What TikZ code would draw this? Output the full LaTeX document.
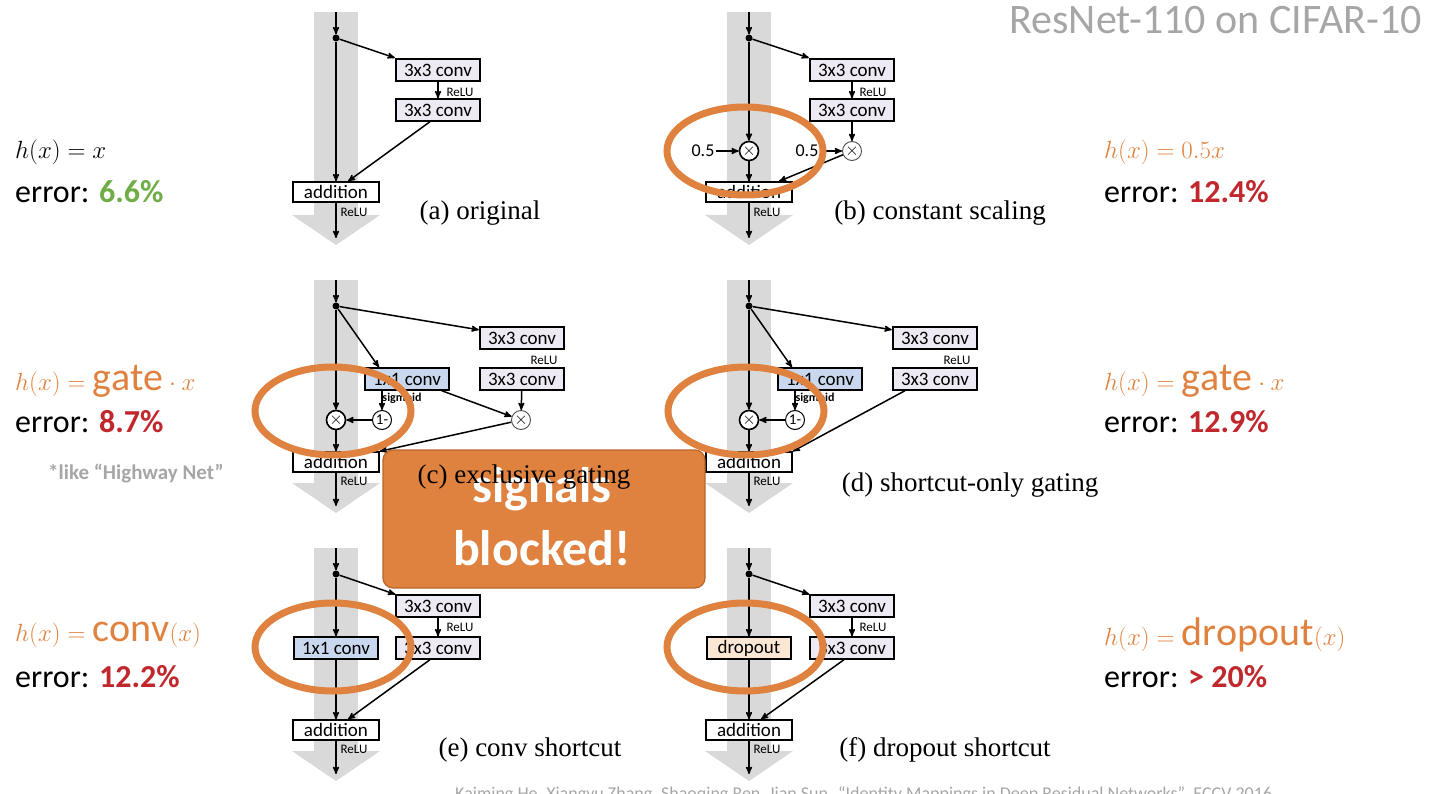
\documentclass[tikz,border=0pt]{standalone}
\usepackage{fontspec}
\setmainfont{Carlito}
\newfontfamily\capfont{Liberation Serif}
\usetikzlibrary{arrows,shapes}
\definecolor{bandgray}{HTML}{D9D9D9}
\definecolor{convfill}{HTML}{EEEAF4}
\definecolor{gatefill}{HTML}{C9D8EE}
\definecolor{dropfill}{HTML}{FBE7D3}
\definecolor{warnorange}{HTML}{E0823F}
\definecolor{warnedge}{HTML}{B8652C}
\definecolor{errred}{HTML}{C0282D}
\definecolor{okgreen}{HTML}{70AD47}
\begin{document}
\begin{tikzpicture}[x=1pt,y=-1pt,>=stealth']
        \tikzstyle{band}=[fill=bandgray]
        \tikzstyle{conv}=[rectangle, draw=black, line width=1.4pt, fill=convfill, minimum width=84, minimum height=22, inner sep=0pt, font=\fontsize{19}{19}\selectfont]
        \tikzstyle{convtop}=[conv, line width=2.4pt]
        \tikzstyle{add}=[conv, fill=white, minimum width=86, minimum height=20]
        \tikzstyle{mult}=[circle, draw=black, line width=1.6pt, fill=white, minimum size=19, inner sep=0pt, font=\bfseries\fontsize{16}{16}\selectfont]
        \tikzstyle{dot}=[circle, fill=black, minimum size=7, inner sep=0pt]
        \tikzstyle{relu}=[font=\fontsize{13}{13}\selectfont, inner sep=1pt]
        \tikzstyle{caption}=[font=\capfont\fontsize{27}{27}\selectfont, inner sep=0pt]
        \tikzstyle{arr}=[->, line width=1.5pt]
        \tikzstyle{hx}=[anchor=west, inner sep=0pt, font=\fontsize{40}{40}\selectfont]
        \tikzstyle{err}=[anchor=west, inner sep=0pt, font=\fontsize{32}{32}\selectfont]
        \tikzstyle{ring}=[draw=warnorange, line width=7pt]
        \useasboundingbox (0,0) rectangle (1434,794);
        % (a) original
        \begin{scope}
          \fill[band] (314,12) rectangle (358,215);
          \fill[band] (292,215) -- (380,215) -- (336,245) -- cycle;
          \coordinate (ain) at (336,12);
          \node [dot] (adot) at (336,38) {};
          \node [convtop] (ac1) at (438,70) {3x3 conv};
          \node [conv] (ac2) at (438,110) {3x3 conv};
          \node [add] (aadd) at (336,192) {addition};
          \coordinate (aout) at (336,238);
          \node [relu] at (460,92) {ReLU};
          \node [relu] at (354,212) {ReLU};
          \node [caption] at (480,213) {(a) original};
          \draw [arr] (ain) -- (adot);
          \draw [arr] (adot) -- (aadd);
          \draw [arr] (adot) -- (ac1.north west);
          \draw [arr] (ac1) -- (ac2);
          \draw [arr] ([xshift=-8]ac2.south) -- ([xshift=12]aadd.north);
          \draw [arr] (aadd) -- (aout);
        \end{scope}
        % (b) constant scaling
        \begin{scope}[shift={(413,0)}]
          \fill[band] (314,12) rectangle (358,215);
          \fill[band] (292,215) -- (380,215) -- (336,245) -- cycle;
          \coordinate (bin) at (336,12);
          \node [dot] (bdot) at (336,38) {};
          \node [convtop] (bc1) at (439,70) {3x3 conv};
          \node [conv] (bc2) at (439,110) {3x3 conv};
          \node [mult] (bm1) at (336,151) {$\times$};
          \node [mult, draw=black!70, line width=0.9pt] (bm2) at (439,151) {$\times$};
          \node [inner sep=1pt, font=\fontsize{18}{18}\selectfont] (bh1) at (290,151) {0.5};
          \node [inner sep=1pt, font=\fontsize{18}{18}\selectfont] (bh2) at (394,151) {0.5};
          \node [add] (badd) at (336,192) {addition};
          \coordinate (bout) at (336,238);
          \node [relu] at (460,92) {ReLU};
          \node [relu] at (354,212) {ReLU};
          \node [caption] at (527,213) {(b) constant scaling};
          \draw [arr] (bin) -- (bdot);
          \draw [arr] (bdot) -- (bm1);
          \draw [arr] (bm1) -- (badd);
          \draw [arr] (bdot) -- (bc1.north west);
          \draw [arr] (bc1) -- (bc2);
          \draw [arr] (bc2) -- (bm2);
          \draw [arr] (bh1) -- (bm1);
          \draw [arr] (bh2) -- (bm2);
          \draw [arr] (bm2) -- ([xshift=30]badd.north);
          \draw [arr] (badd) -- (bout);
        \end{scope}
        % (c) exclusive gating
        \begin{scope}[shift={(0,268)}]
          \fill[band] (314,12) rectangle (358,215);
          \fill[band] (292,215) -- (380,215) -- (336,245) -- cycle;
          \coordinate (cin) at (336,12);
          \node [dot] (cdot) at (336,38) {};
          \node [convtop] (cc1) at (522,70) {3x3 conv};
          \node [conv] (cc2) at (522,111) {3x3 conv};
          \node [conv, fill=gatefill] (cg) at (407,111) {1x1 conv};
          \node [mult, font=\fontsize{15}{15}\selectfont, line width=1pt] (cinv) at (382,152) {1-};
          \node [mult] (cm1) at (336,152) {$\times$};
          \node [mult, draw=black!70, line width=0.9pt] (cm2) at (521,152) {$\times$};
          \node [add] (cadd) at (336,194) {addition};
          \coordinate (cout) at (336,238);
          \node [relu] at (544,92) {ReLU};
          \node [relu, font=\bfseries\fontsize{12}{12}\selectfont] at (402,130) {sigmoid};
          \node [relu] at (354,213) {ReLU};
          \draw [arr] (cin) -- (cdot);
          \draw [arr] (cdot) -- (cm1);
          \draw [arr] (cm1) -- (cadd);
          \draw [arr] (cdot) -- ([yshift=-4]cc1.north west);
          \draw [arr] (cdot) -- ([xshift=-28]cg.north);
          \draw [arr] (cg.south -| cinv) -- (cinv);
          \draw [arr] (cinv) -- (cm1);
          \draw [arr] ([xshift=-8]cg.south east) -- (cm2);
          \draw [arr] (cc2) -- (cm2);
          \draw [arr] (cm2) -- (cadd.north east);
          \draw [arr] (cadd) -- (cout);
        \end{scope}
        % (d) shortcut-only gating
        \begin{scope}[shift={(413,268)}]
          \fill[band] (314,12) rectangle (358,215);
          \fill[band] (292,215) -- (380,215) -- (336,245) -- cycle;
          \coordinate (din) at (336,12);
          \node [dot] (ddot) at (336,38) {};
          \node [convtop] (dc1) at (522,70) {3x3 conv};
          \node [conv] (dc2) at (522,111) {3x3 conv};
          \node [conv, fill=gatefill] (dg) at (407,111) {1x1 conv};
          \node [mult, font=\fontsize{15}{15}\selectfont, line width=1pt] (dinv) at (382,152) {1-};
          \node [mult] (dm1) at (336,152) {$\times$};
          \node [add] (dadd) at (336,194) {addition};
          \coordinate (dout) at (336,238);
          \node [relu] at (544,92) {ReLU};
          \node [relu, font=\bfseries\fontsize{12}{12}\selectfont] at (402,130) {sigmoid};
          \node [relu] at (354,213) {ReLU};
          \node [caption] at (557,217) {(d) shortcut-only gating};
          \draw [arr] (din) -- (ddot);
          \draw [arr] (ddot) -- (dm1);
          \draw [arr] (dm1) -- (dadd);
          \draw [arr] (ddot) -- ([yshift=-4]dc1.north west);
          \draw [arr] (ddot) -- ([xshift=-28]dg.north);
          \draw [arr] (dg.south -| dinv) -- (dinv);
          \draw [arr] (dinv) -- (dm1);
          \draw [arr] ([xshift=-30]dc2.south) -- (dadd.north east);
          \draw [arr] (dadd) -- (dout);
        \end{scope}
        % (e) conv shortcut
        \begin{scope}[shift={(0,536)}]
          \fill[band] (314,12) rectangle (358,215);
          \fill[band] (292,215) -- (380,215) -- (336,245) -- cycle;
          \coordinate (ein) at (336,12);
          \node [dot] (edot) at (336,38) {};
          \node [conv] (ec1) at (438,70) {3x3 conv};
          \node [conv] (ec2) at (438,112) {3x3 conv};
          \node [conv, fill=gatefill] (es) at (336,112) {1x1 conv};
          \node [add] (eadd) at (336,194) {addition};
          \coordinate (eout) at (336,238);
          \node [relu] at (460,91) {ReLU};
          \node [relu] at (354,213) {ReLU};
          \node [caption] at (530,214) {(e) conv shortcut};
          \draw [arr] (ein) -- (edot);
          \draw [arr] (edot) -- (es);
          \draw [arr] (es) -- (eadd);
          \draw [arr] (edot) -- (ec1.north west);
          \draw [arr] (ec1) -- (ec2);
          \draw [arr] ([xshift=-8]ec2.south) -- ([xshift=12]eadd.north);
          \draw [arr] (eadd) -- (eout);
        \end{scope}
        % (f) dropout shortcut
        \begin{scope}[shift={(413,536)}]
          \fill[band] (314,12) rectangle (358,215);
          \fill[band] (292,215) -- (380,215) -- (336,245) -- cycle;
          \coordinate (fin) at (336,12);
          \node [dot] (fdot) at (336,38) {};
          \node [conv] (fc1) at (439,70) {3x3 conv};
          \node [conv] (fc2) at (439,112) {3x3 conv};
          \node [conv, fill=dropfill] (fs) at (336,112) {dropout};
          \node [add] (fadd) at (336,194) {addition};
          \coordinate (fout) at (336,238);
          \node [relu] at (460,91) {ReLU};
          \node [relu] at (354,213) {ReLU};
          \node [caption] at (532,214) {(f) dropout shortcut};
          \draw [arr] (fin) -- (fdot);
          \draw [arr] (fdot) -- (fs);
          \draw [arr] (fs) -- (fadd);
          \draw [arr] (fdot) -- (fc1.north west);
          \draw [arr] (fc1) -- (fc2);
          \draw [arr] ([xshift=-8]fc2.south) -- ([xshift=12]fadd.north);
          \draw [arr] (fadd) -- (fout);
        \end{scope}
        % highlights
        \draw [ring] (745,151) ellipse [x radius=78, y radius=44];
        \draw [ring] (333,411) ellipse [x radius=78, y radius=44];
        \draw [ring] (746,411) ellipse [x radius=78, y radius=44];
        \draw [ring] (333,647) ellipse [x radius=78, y radius=44];
        \draw [ring] (745,647) ellipse [x radius=78, y radius=44];
        \node [draw=warnedge, line width=1.2pt, fill=warnorange, rounded corners=10pt, minimum width=322, minimum height=138, inner sep=0pt] (block) at (544,519) {};
        \node [text=white, font=\bfseries\fontsize{50}{63}\selectfont, align=center] (blocktxt) at (542,517) {signals\\blocked!};
        \node [caption] at (524,477) {(c) exclusive gating};
        % formulas
        \node [hx] (ha) at (15,152) {$h(x)=x$};
        \node [err] (ea) at (15,192) {error: \textbf{\color{okgreen}6.6\%}};
        \node [hx, text=warnorange] (hb) at (1104,152) {$h(x)=0.5x$};
        \node [err] (eb) at (1104,192) {error: \textbf{\color{errred}12.4\%}};
        \node [hx, text=warnorange] (hc) at (15,381) {$h(x)=\mathrm{gate}\cdot x$};
        \node [err] (ec) at (15,422) {error: \textbf{\color{errred}8.7\%}};
        \node [anchor=center, text=black!35, font=\bfseries\fontsize{21}{21}\selectfont] (hw) at (136,474) {*like “Highway Net”};
        \node [hx, text=warnorange] (hd) at (1104,381) {$h(x)=\mathrm{gate}\cdot x$};
        \node [err] (ed) at (1104,422) {error: \textbf{\color{errred}12.9\%}};
        \node [hx, text=warnorange] (he) at (15,635) {$h(x)=\mathrm{conv}(x)$};
        \node [err] (ee) at (15,677) {error: \textbf{\color{errred}12.2\%}};
        \node [hx, text=warnorange] (hf) at (1104,635) {$h(x)=\mathrm{dropout}(x)$};
        \node [err] (ef) at (1104,677) {error: \textbf{\color{errred}> 20\%}};
        \node [anchor=east, text=black!35, inner sep=0pt, font=\fontsize{42}{42}\selectfont] (title) at (1422,20) {ResNet-110 on CIFAR-10};
        \node [anchor=north west, text=black!35, inner sep=0pt, font=\fontsize{18}{18}\selectfont] (cite) at (455,786) {Kaiming He, Xiangyu Zhang, Shaoqing Ren, Jian Sun. “Identity Mappings in Deep Residual Networks”. ECCV 2016};
\end{tikzpicture}
\end{document}
